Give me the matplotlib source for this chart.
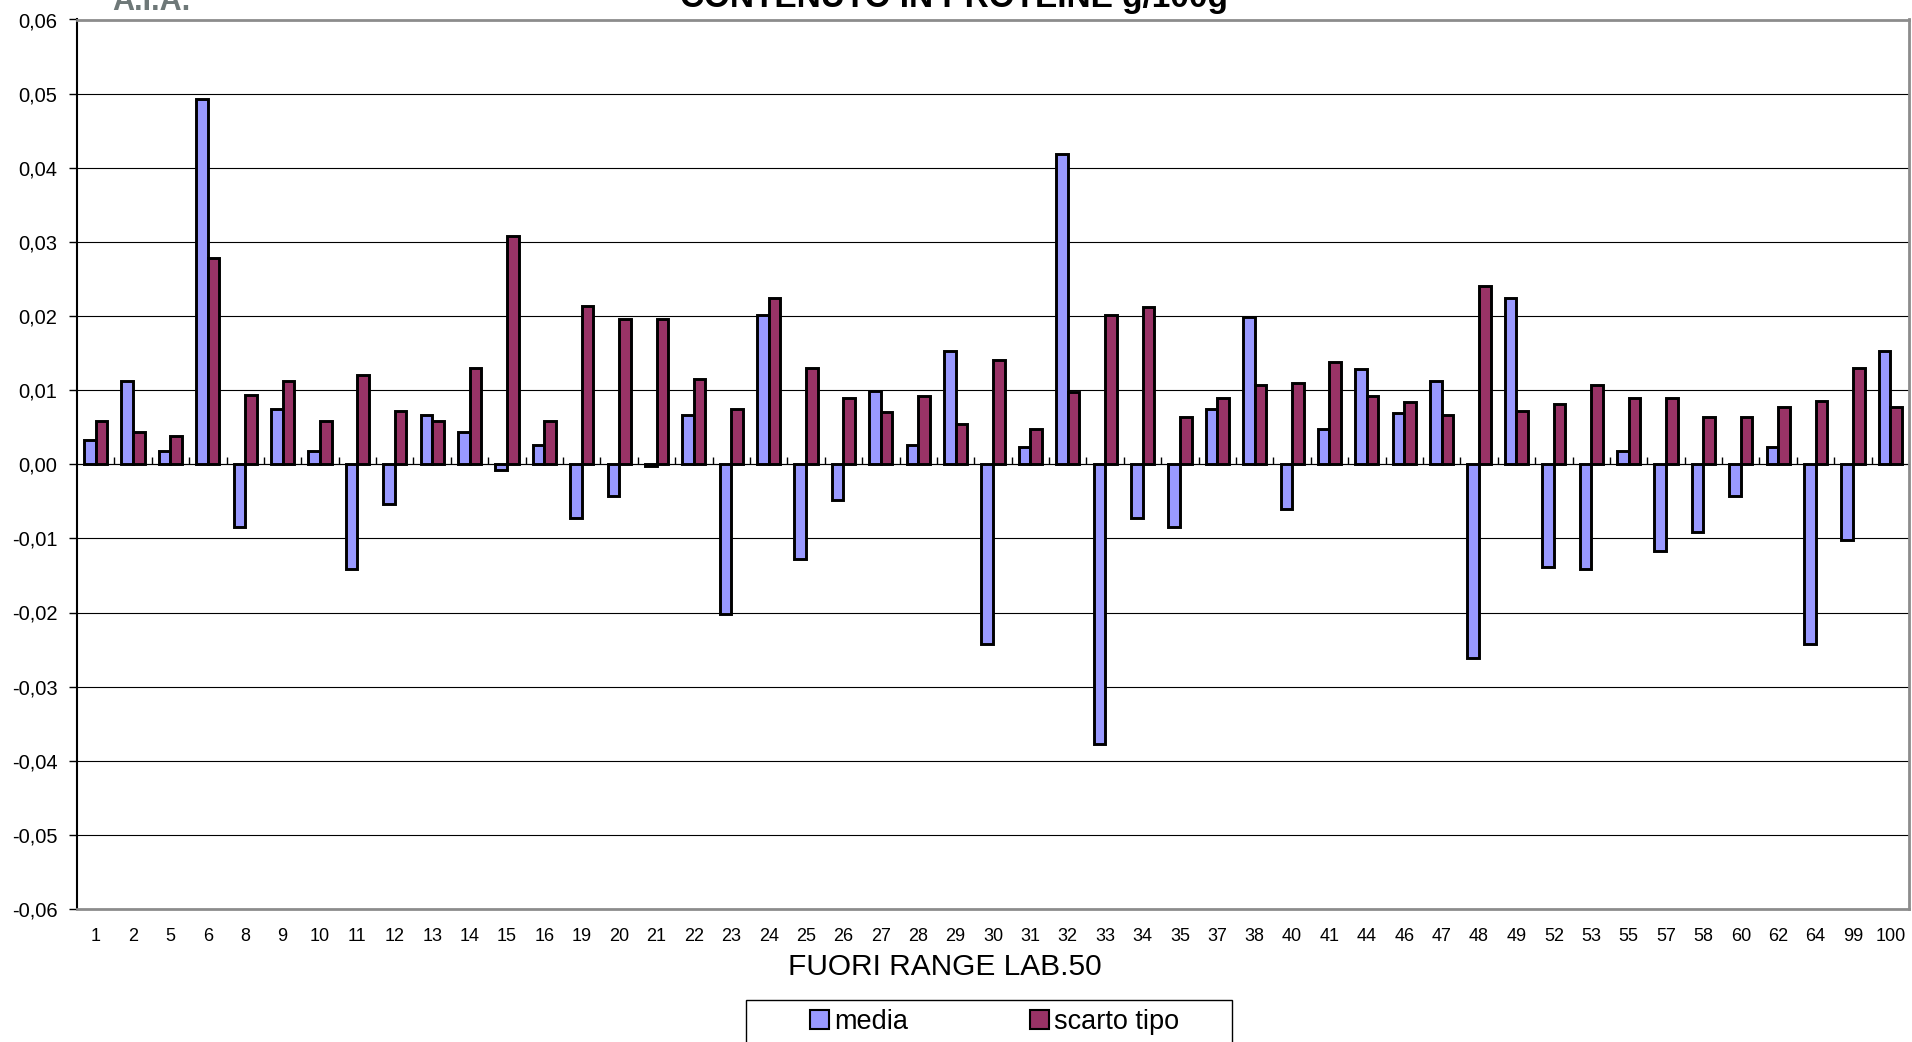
import matplotlib.pyplot as plt
from matplotlib.patches import Rectangle, Patch
from matplotlib.ticker import FixedLocator, FuncFormatter
import numpy as np

plt.rcParams["font.family"] = ["Liberation Sans", "DejaVu Sans"]

# laboratori fuori range
labs = ["1", "2", "5", "6", "8", "9", "10", "11", "12", "13", "14", "15", "16",
        "19", "20", "21", "22", "23", "24", "25", "26", "27", "28", "29", "30",
        "31", "32", "33", "34", "35", "37", "38", "40", "41", "44", "46", "47",
        "48", "49", "52", "53", "55", "57", "58", "60", "62", "64", "99", "100"]

media = [0.0033, 0.0112, 0.0018, 0.0493, -0.0084, 0.0074, 0.0018, -0.0141,
         -0.0053, 0.0067, 0.0043, -0.0008, 0.0026, -0.0072, -0.0043, -0.0002,
         0.0067, -0.0202, 0.0202, -0.0128, -0.0048, 0.0099, 0.0026, 0.0153,
         -0.0242, 0.0023, 0.0419, -0.0377, -0.0072, -0.0084, 0.0074, 0.0199,
         -0.0061, 0.0048, 0.0128, 0.0069, 0.0112, -0.0262, 0.0224, -0.0138,
         -0.0141, 0.0018, -0.0117, -0.0092, -0.0043, 0.0023, -0.0242, -0.0102,
         0.0153]

scarto_tipo = [0.0059, 0.0043, 0.0038, 0.0278, 0.0094, 0.0112, 0.0059, 0.0120,
               0.0072, 0.0058, 0.0130, 0.0308, 0.0058, 0.0214, 0.0196, 0.0196,
               0.0115, 0.0074, 0.0224, 0.0130, 0.0089, 0.0071, 0.0092, 0.0054,
               0.0141, 0.0048, 0.0097, 0.0202, 0.0212, 0.0064, 0.0089, 0.0107,
               0.0110, 0.0138, 0.0092, 0.0084, 0.0066, 0.0240, 0.0072, 0.0081,
               0.0107, 0.0089, 0.0089, 0.0064, 0.0064, 0.0077, 0.0086, 0.0130,
               0.0077]

yticks = [-0.06, -0.05, -0.04, -0.03, -0.02, -0.01, 0.0,
          0.01, 0.02, 0.03, 0.04, 0.05, 0.06]

BLUE = "#9999FF"
RED = "#993366"
W, H = 1912, 1042

fig = plt.figure(figsize=(W / 100, H / 100), dpi=100)
ax = fig.add_axes([77 / W, 1 - 909 / H, (1909 - 77) / W, (909 - 19.5) / H])

x = np.arange(len(labs))
bw = 0.31
ax.bar(x - bw / 2, media, bw, color=BLUE, edgecolor="black", linewidth=2.1, zorder=3)
ax.bar(x + bw / 2, scarto_tipo, bw, color=RED, edgecolor="black", linewidth=2.1, zorder=3)

ax.set_xlim(-0.5, len(labs) - 0.5)
ax.set_ylim(-0.06, 0.06)

# griglia orizzontale
for v in yticks[1:-1]:
    ax.axhline(v, color="black", linewidth=0.8, zorder=1)

ax.set_yticks(yticks)
ax.yaxis.set_major_formatter(FuncFormatter(lambda v, p: f"{v:.2f}".replace(".", ",")))
ax.tick_params(axis="y", direction="out", length=6, width=1, pad=8, labelsize=14.5)

ax.set_xticks(x)
ax.set_xticklabels(labs)
ax.tick_params(axis="x", length=0, pad=14, labelsize=13)

for s in ["top", "right", "bottom"]:
    ax.spines[s].set_color("#8c8c8c")
    ax.spines[s].set_linewidth(2)
ax.spines["left"].set_color("black")
ax.spines["left"].set_linewidth(1.5)

# asse dello zero con tacche tra le categorie
zero = ax.secondary_xaxis(0.5)
zero.xaxis.set_major_locator(FixedLocator(x[:-1] + 0.5))
zero.tick_params(direction="out", length=5, width=1, labelbottom=False, labeltop=False)
zero.spines["bottom"].set_color("black")
zero.spines["bottom"].set_linewidth(1)

fig.text(954 / W, 1 - 7 / H, "CONTENUTO IN PROTEINE g/100g", ha="center",
         va="baseline", fontsize=24, fontweight="bold")
fig.text(112 / W, 1 - 10 / H, "A.I.A.", ha="left", va="baseline",
         fontsize=22, fontweight="bold", color="#6e7878")
fig.text(945 / W, 1 - 967 / H, "FUORI RANGE LAB.50", ha="center", va="center",
         fontsize=21.5)

# legenda
fig.patches.append(Rectangle((746 / W, -0.1), (1232 - 746) / W, 0.1 + (1 - 1000 / H),
                             transform=fig.transFigure, facecolor="white",
                             edgecolor="black", linewidth=1))
handles = [Patch(facecolor=BLUE, edgecolor="black", linewidth=1.5),
           Patch(facecolor=RED, edgecolor="black", linewidth=1.5)]
fig.legend(handles, ["media", "scarto tipo"], loc="center left",
           bbox_to_anchor=((796 - 10.6) / W, 1 - 1022 / H), ncol=2,
           frameon=False, fontsize=19.5, handlelength=0.7, handleheight=0.7,
           handletextpad=0.2, columnspacing=4.5)

fig.savefig("out.png", dpi=100)
